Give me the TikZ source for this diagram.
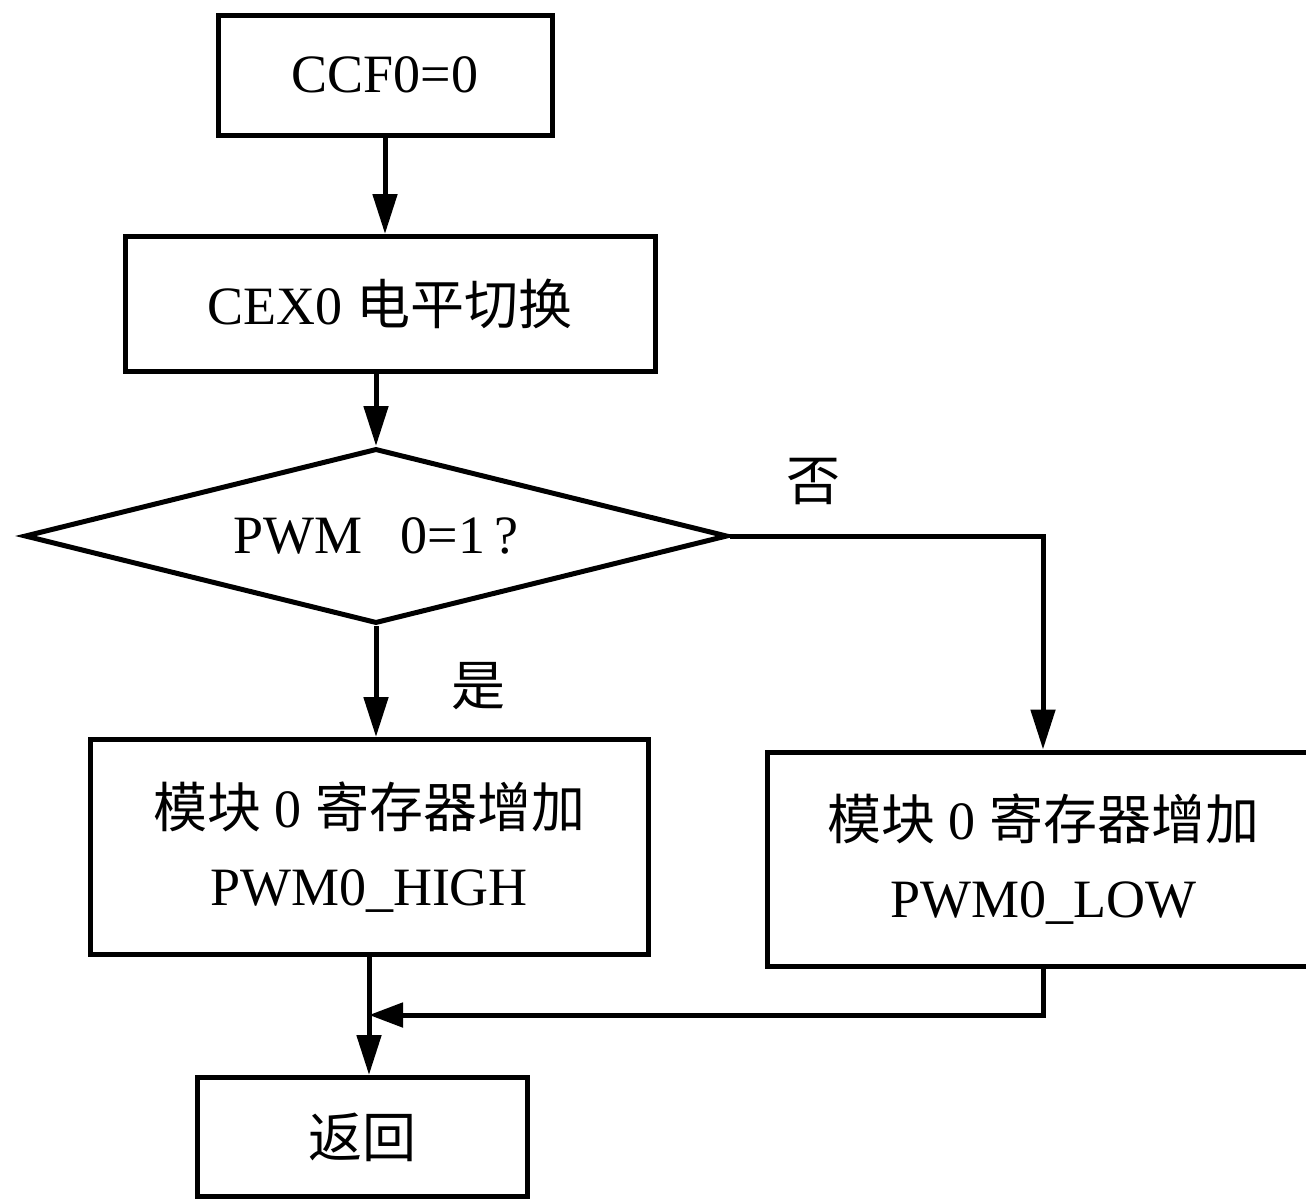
\documentclass[tikz,border=0pt]{standalone}
\usepackage{fontspec}
\setmainfont{Liberation Serif}
\newfontfamily\cjk{Noto Sans CJK SC}
\usetikzlibrary{arrows.meta,shapes.geometric}
\begin{document}
\begin{tikzpicture}[x=0.5pt,y=-0.5pt, line width=2.5pt,
  txt/.style={font=\fontsize{27}{39}\selectfont},
  box/.style={draw, rectangle, inner sep=0pt, align=center, txt},
  arr/.style={-{Triangle[length=20pt,width=12pt]}},
  lbl/.style={inner sep=0pt, font=\fontsize{27}{39}\selectfont\cjk}]
\useasboundingbox (0,0) rectangle (1306,1200);
\node[box, minimum width=167pt, minimum height=60pt] (ccf) at (385,75) {CCF0=0};
\node[box, minimum width=265pt, minimum height=67.5pt] (cex) at (390,304) {CEX0 {\cjk 电平切换}};
\node[draw, diamond, aspect=4, inner sep=0pt, minimum width=351.5pt, minimum height=87.5pt, txt] (dia) at (376,536) {PWM\hspace{0.7em}0=1\,?\hspace{0.5em}};
\node[box, minimum width=279pt, minimum height=107.5pt] (hi) at (369,847) {{\cjk 模块} 0 {\cjk 寄存器增加}\\PWM0\_HIGH};
\node[box, minimum width=276pt, minimum height=107pt] (lo) at (1043,859) {{\cjk 模块} 0 {\cjk 寄存器增加}\\PWM0\_LOW};
\node[box, minimum width=165pt, minimum height=59.5pt] (ret) at (362,1137) {{\cjk 返回}};
\node[lbl] (no) at (813,482) {否};
\node[lbl] (yes) at (478,686) {是};
\coordinate (m) at (369,1015);
\draw[arr] (ccf.south) -- (ccf.south |- cex.north);
\draw[arr] (dia.north |- cex.south) -- (dia.north);
\draw[arr] (dia.south) -- (dia.south |- hi.north);
\draw[arr] (dia.east) -| (lo.north);
\draw (hi.south) -- (m);
\draw[arr] (m) -- (m |- ret.north);
\draw[-{Triangle[length=17pt,width=12pt]}] (lo.south) |- (m);
\end{tikzpicture}
\end{document}
